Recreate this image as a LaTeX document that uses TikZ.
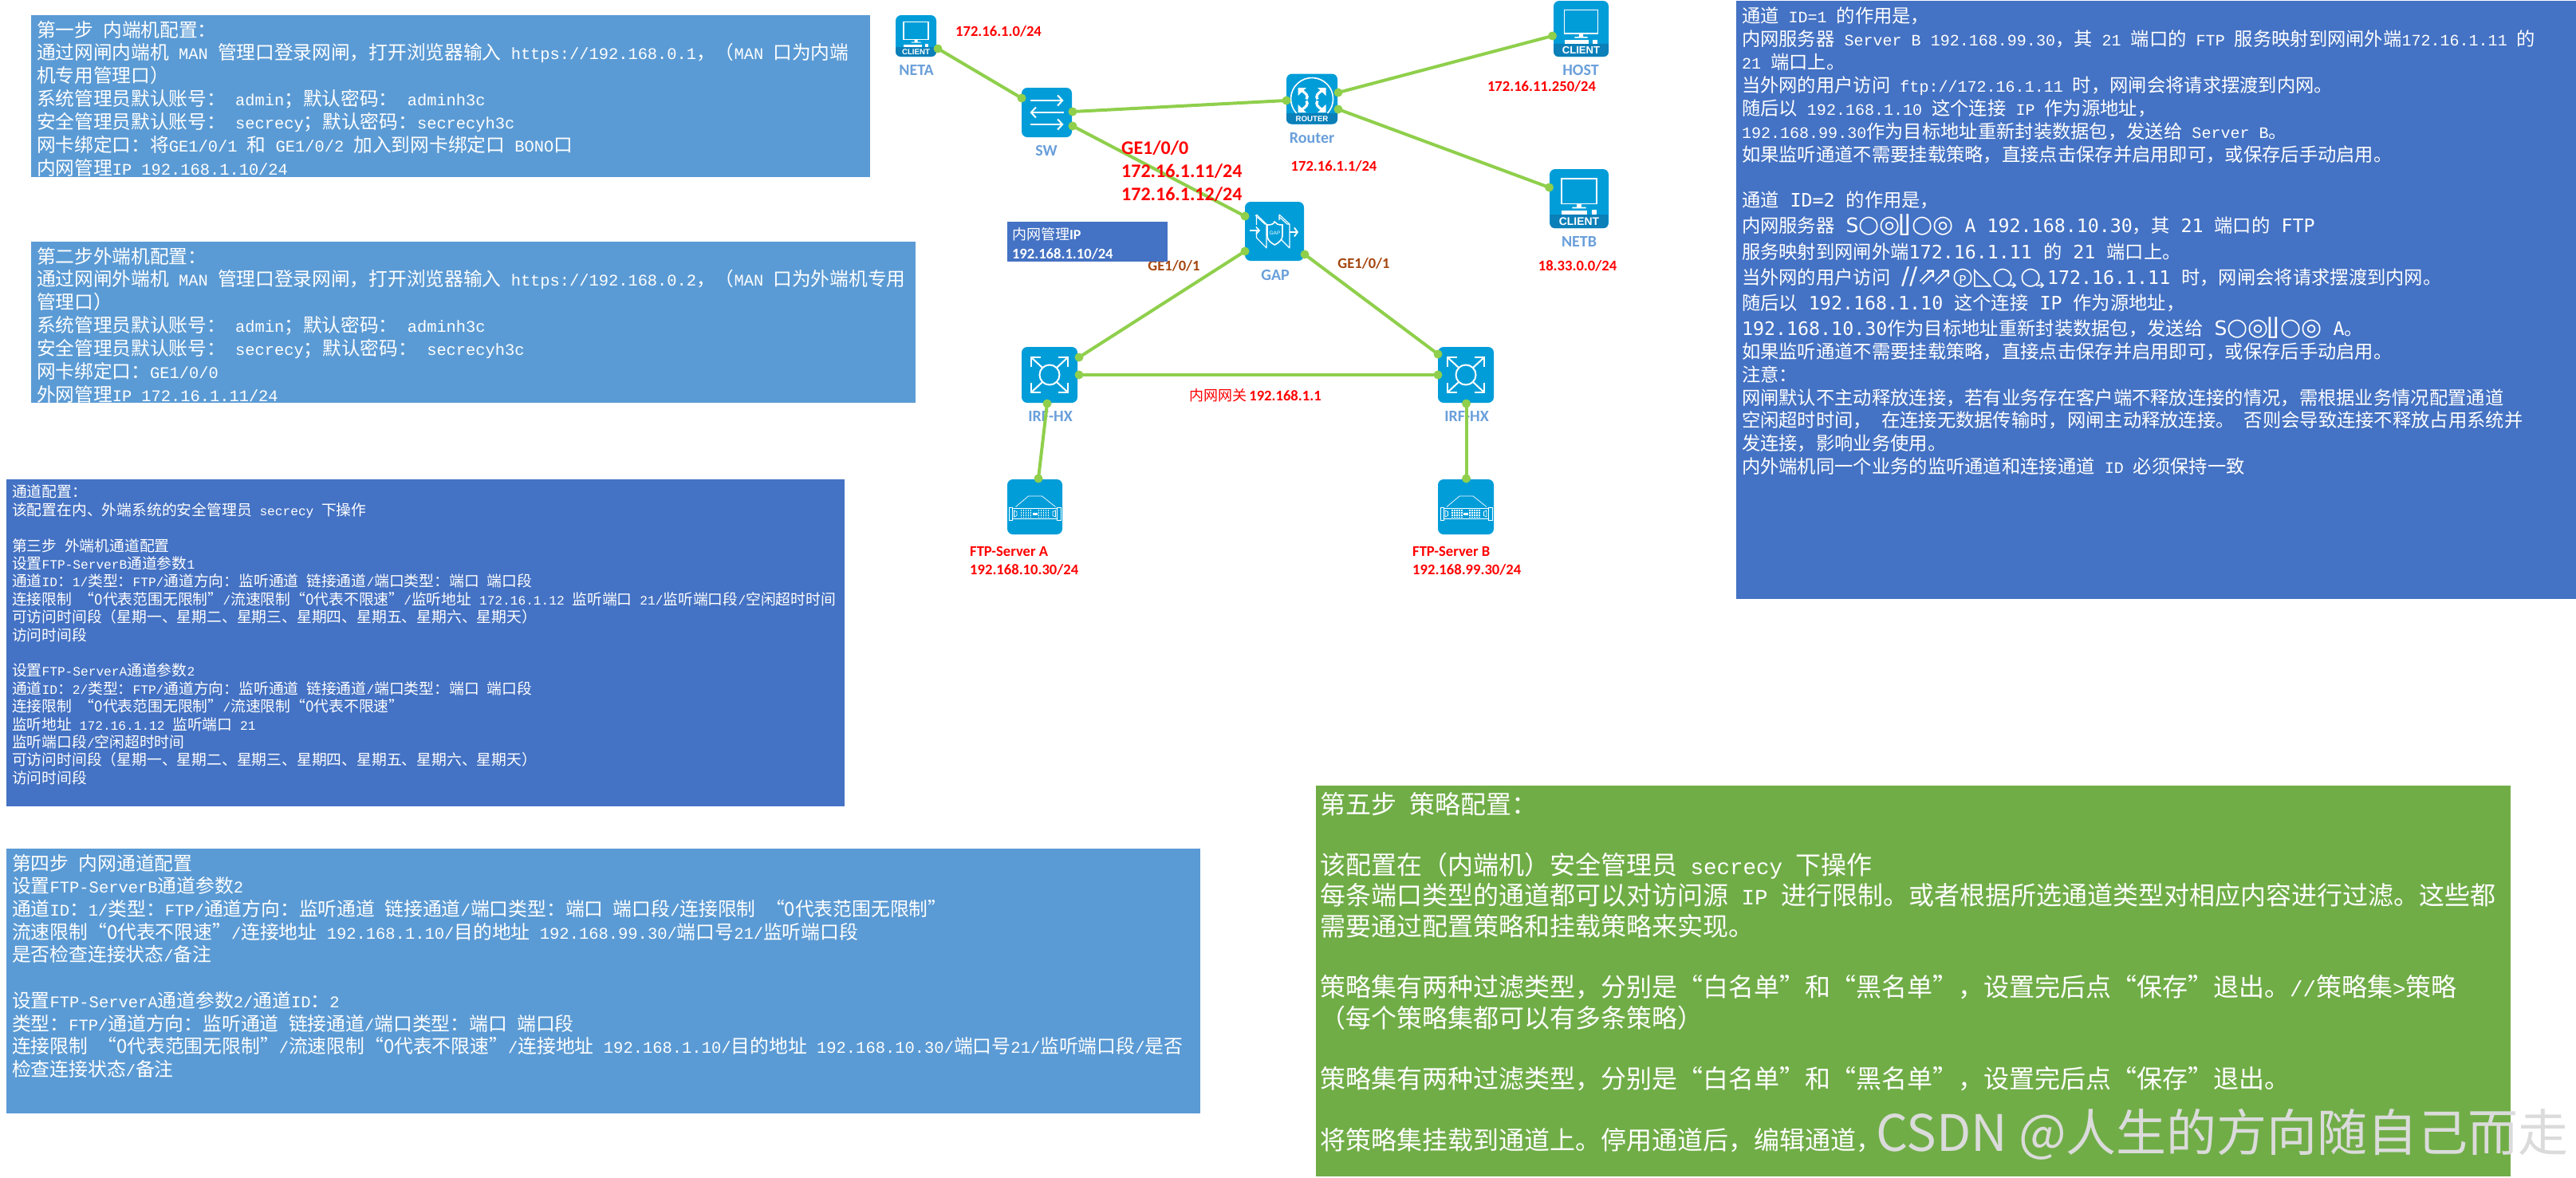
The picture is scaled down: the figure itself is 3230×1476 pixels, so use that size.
\documentclass[tikz,border=0pt]{standalone}
\usepackage{fontspec}
\usetikzlibrary{arrows.meta}
\setmainfont{Noto Sans CJK SC}
\setsansfont{Liberation Sans}
\newfontfamily\latf[Scale=0.86]{Liberation Mono}
\newfontfamily\latw{DejaVu Sans Mono}
\newfontfamily\calf{Carlito}
\newfontfamily\symf{DejaVu Sans}
\newcommand{\lat}[1]{{\latf #1}}
\newcommand{\latb}[1]{{\latw #1}}
\newcommand{\glitchS}{{\symf\fontsize{30}{30}\selectfont\raisebox{0pt}{\fontsize{25}{25}\selectfont S}○◎\kern-2pt⌊\kern-8pt⌋\kern1pt○◎}}
\newcommand{\qtail}{{\symf\raisebox{-6pt}{\fontsize{14}{14}\selectfont\kern-7pt ➔}}}
\newcommand{\glitchP}{\makebox[0pt][l]{\makebox[24pt][c]{\fontsize{15}{15}\selectfont P}}○}
\newcommand{\glitchF}{{\symf\fontsize{30}{30}\selectfont//⇗\kern-6pt⇗\glitchP ◺○\qtail\kern4pt○\qtail}}
\definecolor{pblue}{HTML}{5B9BD5}
\definecolor{pdark}{HTML}{4472C4}
\definecolor{pgreen}{HTML}{70AD47}
\definecolor{icon}{HTML}{019DD9}
\definecolor{iconband}{HTML}{0A7FB8}
\definecolor{linkc}{HTML}{8FCF4C}
\definecolor{labelc}{HTML}{6A9FDA}
\definecolor{brownc}{HTML}{A5460F}
\tikzset{
  panel/.style={anchor=north west,inner sep=0pt,outer sep=0pt},
  paneltext/.style={anchor=north west,inner sep=0pt,outer sep=0pt,align=left,text=white},
  iconbox/.style={fill=icon,rounded corners=7pt,inner sep=0pt,outer sep=0pt},
  port/.style={circle,fill=linkc,inner sep=0pt,minimum size=11pt},
  link/.style={draw=linkc,line width=4pt},
  devlabel/.style={text=labelc,inner sep=0pt,font=\calf\bfseries\fontsize{20}{20}\selectfont},
  redlabel/.style={text=red,inner sep=0pt,align=left,font=\calf\bfseries\fontsize{18.6}{23.5}\selectfont},
  brownlabel/.style={text=brownc,inner sep=0pt,font=\calf\bfseries\fontsize{18.6}{20}\selectfont},
  wl/.style={draw=white,line width=1.8pt},
  wa/.style={wl,-{Straight Barb[length=6pt,width=13pt,line width=2pt]}},
  clientpic/.pic={
    \fill[iconband,rounded corners=6pt] (-25.5,14) [sharp corners] -- (25.5,14) [rounded corners=6pt] -- (25.5,26) -- (-25.5,26) [sharp corners] -- (-25.5,14) -- cycle;
    \draw[white,line width=1.4pt] (-15.5,-17.5) rectangle (15.5,4.5);
    \fill[white] (-2,5) rectangle (2,7.5) (-6,7.5) rectangle (6,8.6);
    \fill[white] (-15.5,10.5) rectangle (7,14);
    \fill[white] (11,10) rectangle (15.5,14);
    \node[transform shape,text=white,inner sep=0pt,font=\sffamily\bfseries\fontsize{9.7}{10}\selectfont] (t) at (0,20.3) {CLIENT};
  },
  swpic/.pic={
    \draw[wa] (-21,-15) -- (21,-15);
    \draw[wa] (21,0) -- (-21,0);
    \draw[wa] (-21,15) -- (21,15);
  },
  routerpic/.pic={
    \fill[iconband,rounded corners=6pt] (-32,18) [sharp corners] -- (32,18) [rounded corners=6pt] -- (32,31.5) -- (-32,31.5) [sharp corners] -- (-32,18) -- cycle;
    \draw[white,line width=1.6pt] (-19.4,18) arc[start angle=137.2,end angle=402.8,radius=26.5];
    \foreach \sx in {-1,1} \foreach \sy in {-1,1}{
      \draw[white,line width=3.2pt] (\sx*15,\sy*13+1.5) .. controls (\sx*7,\sy*9+1.5) and (\sx*4,\sy*5+1.5) .. (\sx*7,\sy*1+1.5);
      \fill[white] (\sx*17.5,\sy*15.5+1.5) -- (\sx*7,\sy*15.5+1.5) -- (\sx*17.5,\sy*5.5+1.5) -- cycle;
    }
    \node[transform shape,text=white,inner sep=0pt,font=\sffamily\bfseries\fontsize{9.7}{10}\selectfont] (t) at (0,25) {ROUTER};
  },
  gappic/.pic={
    \draw[white,line width=1.1pt,line join=round] (-22.5,-21) -- (-10,-9) -- (-10,21) -- (-22.5,8) (-22.5,-21) -- (-22.5,-8) (-22.5,0) -- (-22.5,8) (-10,-9) -- (-12,-9) -- (-24,-20);
    \draw[white,line width=1.1pt,line join=round] (6,-21) -- (19,-9) -- (19,21) -- (6,8) (6,-21) -- (6,-14) (19,-9) -- (16,-9) -- (6,-18);
    \draw[wl,-{Straight Barb[length=4pt,width=9pt,line width=1.6pt]},line width=1.4pt] (-31,-1) -- (-18,-1);
    \draw[wl,-{Straight Barb[length=4pt,width=11pt,line width=1.8pt]},line width=1.8pt] (19,1) -- (30,1);
    \draw[white,line width=1.6pt,fill=icon] (-9,-8) .. controls (-4,-8) and (-1,-9) .. (0,-12) .. controls (2,-9) and (5,-8) .. (10,-8) -- (10,6) .. controls (10,11) and (4,15) .. (0.5,17) .. controls (-4,15) and (-9,11) .. (-9,6) -- cycle;
    \node[transform shape,text=white,inner sep=0pt,font=\sffamily\fontsize{6.5}{7}\selectfont] (t) at (0.5,2) {GAP};
  },
  irfpic/.pic={
    \draw[white,line width=2pt] (0,0) circle[radius=12.5];
    \foreach \sx in {-1,1} \foreach \sy in {-1,1}{
      \draw[white,line width=2pt,line join=miter] (\sx*23,\sy*10) -- (\sx*23,\sy*22) -- (\sx*11,\sy*22);
      \draw[white,line width=2pt] (\sx*23,\sy*22) -- (\sx*9,\sy*9);
    }
  },
  serverpic/.pic={
    \draw[white,line width=.7pt] (-24,0) -- (-8,-13.5) -- (9,-13.5) -- (26,0);
    \draw[white,line width=.8pt] (-28,2) rectangle (28,14.5);
    \draw[white,line width=.8pt] (-32,1) rectangle (-28,17) (28,1) rectangle (33,17);
    \draw[white,line width=.7pt] (-26,4.5) -- (-22.5,6) -- (-22.5,11) -- (-26,12.5) -- cycle (26,4.5) -- (22.5,6) -- (22.5,11) -- (26,12.5) -- cycle;
    \foreach \dx in {-17,-14,-11,-8,-5,5,8,11,14,17} \foreach \dy in {4.5,7.5,10.5,13}
      \fill[white] (\dx-.8,\dy-.7) rectangle (\dx+.8,\dy+.7);
    \fill[white] (-3,7) rectangle (3,10);
  }
}
\begin{document}
\begin{tikzpicture}[x=1pt,y=-1pt]
\useasboundingbox (0,0) rectangle (3230,1476);

% panels
\node[panel,fill=pblue,minimum width=1052pt,minimum height=203pt] (box1) at (39,19) {};
\node[panel,fill=pblue,minimum width=1109pt,minimum height=202pt] (box2) at (39,303) {};
\node[panel,fill=pdark,minimum width=1051pt,minimum height=410pt] (box3) at (8,601) {};
\node[panel,fill=pblue,minimum width=1497pt,minimum height=332pt] (box4) at (8,1064) {};
\node[panel,fill=pgreen,minimum width=1498pt,minimum height=490pt] (box5) at (1650,985) {};
\node[panel,fill=pdark,minimum width=1053pt,minimum height=750pt] (box6) at (2177,1) {};

\node[paneltext,font=\fontsize{23.7}{28.9}\selectfont] (t1) at (46,26) {%
第一步\lat{ }内端机配置^^^^ff1a\\
通过网闸内端机\lat{ MAN }管理口登录网闸^^^^ff0c打开浏览器输入\lat{ https://192.168.0.1}^^^^ff0c^^^^ff08\lat{MAN }口为内端\\
机专用管理口^^^^ff09\\
系统管理员默认账号^^^^ff1a\lat{ admin}^^^^ff1b默认密码^^^^ff1a\lat{ adminh3c}\\
安全管理员默认账号^^^^ff1a\lat{ secrecy}^^^^ff1b默认密码^^^^ff1a\lat{secrecyh3c}\\
网卡绑定口^^^^ff1a将\lat{GE1/0/1 }和\lat{ GE1/0/2 }加入到网卡绑定口\lat{ BONO}口\\
内网管理\lat{IP 192.168.1.10/24}};

\node[paneltext,font=\fontsize{23.7}{28.9}\selectfont] (t2) at (46,310) {%
第二步外端机配置^^^^ff1a\\
通过网闸外端机\lat{ MAN }管理口登录网闸^^^^ff0c打开浏览器输入\lat{ https://192.168.0.2}^^^^ff0c^^^^ff08\lat{MAN }口为外端机专用\\
管理口^^^^ff09\\
系统管理员默认账号^^^^ff1a\lat{ admin}^^^^ff1b默认密码^^^^ff1a\lat{ adminh3c}\\
安全管理员默认账号^^^^ff1a\lat{ secrecy}^^^^ff1b默认密码^^^^ff1a\lat{ secrecyh3c}\\
网卡绑定口^^^^ff1a\lat{GE1/0/0}\\
外网管理\lat{IP 172.16.1.11/24}};

\node[paneltext,font=\fontsize{18.8}{22.4}\selectfont] (t3) at (15,608) {%
通道配置^^^^ff1a\\
该配置在内、外端系统的安全管理员\lat{ secrecy }下操作\\
\mbox{}\\
第三步\lat{ }外端机通道配置\\
设置\lat{FTP-ServerB}通道参数\lat{1}\\
通道\lat{ID}^^^^ff1a\lat{1/}类型^^^^ff1a\lat{FTP/}通道方向^^^^ff1a监听通道\lat{ }链接通道\lat{/}端口类型^^^^ff1a端口\lat{ }端口段\\
连接限制\lat{ }“0代表范围无限制”\lat{/}流速限制“0代表不限速”\lat{/}监听地址\lat{ 172.16.1.12  }监听端口\lat{ 21/}监听端口段\lat{/}空闲超时时间\\
可访问时间段^^^^ff08星期一、星期二、星期三、星期四、星期五、星期六、星期天^^^^ff09\\
访问时间段\\
\mbox{}\\
设置\lat{FTP-ServerA}通道参数\lat{2}\\
通道\lat{ID}^^^^ff1a\lat{2/}类型^^^^ff1a\lat{FTP/}通道方向^^^^ff1a监听通道\lat{ }链接通道\lat{/}端口类型^^^^ff1a端口\lat{ }端口段\\
连接限制\lat{ }“0代表范围无限制”\lat{/}流速限制“0代表不限速”\\
监听地址\lat{ 172.16.1.12  }监听端口\lat{ 21}\\
监听端口段\lat{/}空闲超时时间\\
可访问时间段^^^^ff08星期一、星期二、星期三、星期四、星期五、星期六、星期天^^^^ff09\\
访问时间段};

\node[paneltext,font=\fontsize{23.8}{28.7}\selectfont] (t4) at (15,1071) {%
第四步\lat{ }内网通道配置\\
设置\lat{FTP-ServerB}通道参数\lat{2}\\
通道\lat{ID}^^^^ff1a\lat{1/}类型^^^^ff1a\lat{FTP/}通道方向^^^^ff1a监听通道\lat{ }链接通道\lat{/}端口类型^^^^ff1a端口\lat{ }端口段\lat{/}连接限制\lat{ }“0代表范围无限制”\\
流速限制“0代表不限速”\lat{/}连接地址\lat{ 192.168.1.10/}目的地址\lat{ 192.168.99.30/}端口号\lat{21/}监听端口段\\
是否检查连接状态\lat{/}备注\\
\mbox{}\\
设置\lat{FTP-ServerA}通道参数\lat{2/}通道\lat{ID}^^^^ff1a\lat{2}\\
类型^^^^ff1a\lat{FTP/}通道方向^^^^ff1a监听通道\lat{ }链接通道\lat{/}端口类型^^^^ff1a端口\lat{ }端口段\\
连接限制\lat{ }“0代表范围无限制”\lat{/}流速限制“0代表不限速”\lat{/}连接地址\lat{ 192.168.1.10/}目的地址\lat{ 192.168.10.30/}端口号\lat{21/}监听端口段\lat{/}是否\\
检查连接状态\lat{/}备注};

\node[paneltext,font=\fontsize{32}{38.3}\selectfont] (t5) at (1655,993) {%
第五步\lat{ }策略配置^^^^ff1a\\
\mbox{}\\
该配置在^^^^ff08内端机^^^^ff09安全管理员\lat{ secrecy }下操作\\
每条端口类型的通道都可以对访问源\lat{ IP }进行限制。或者根据所选通道类型对相应内容进行过滤。这些都\\
需要通过配置策略和挂载策略来实现。\\
\mbox{}\\
策略集有两种过滤类型^^^^ff0c分别是“白名单”和“黑名单”^^^^ff0c设置完后点“保存”退出。\lat{//}策略集\lat{>}策略\\
^^^^ff08每个策略集都可以有多条策略^^^^ff09\\
\mbox{}\\
策略集有两种过滤类型^^^^ff0c分别是“白名单”和“黑名单”^^^^ff0c设置完后点“保存”退出。\\
\mbox{}\\
将策略集挂载到通道上。停用通道后^^^^ff0c编辑通道^^^^ff0c};

\node[paneltext,font=\fontsize{23.3}{28.9}\selectfont] (t6) at (2184,9) {%
通道\lat{ ID=1 }的作用是^^^^ff0c\\
内网服务器\lat{ Server B 192.168.99.30}^^^^ff0c其\lat{ 21 }端口的\lat{ FTP }服务映射到网闸外端\lat{172.16.1.11 }的\\
\lat{21 }端口上。\\
当外网的用户访问\lat{ ftp://172.16.1.11 }时^^^^ff0c网闸会将请求摆渡到内网。\\
随后以\lat{ 192.168.1.10 }这个连接\lat{ IP }作为源地址^^^^ff0c\\
\lat{192.168.99.30}作为目标地址重新封装数据包^^^^ff0c发送给\lat{ Server B}。\\
如果监听通道不需要挂载策略^^^^ff0c直接点击保存并启用即可^^^^ff0c或保存后手动启用。\\
\mbox{}\\
通道\latb{ ID=2 }的作用是^^^^ff0c\\[3.2pt]
内网服务器\latb{ }\glitchS\latb{ A 192.168.10.30}^^^^ff0c其\latb{ 21 }端口的\latb{ FTP}\\[3.2pt]
服务映射到网闸外端\latb{172.16.1.11 }的\latb{ 21 }端口上。\\[3.2pt]
当外网的用户访问\latb{ }\glitchF\kern3pt\latb{172.16.1.11 }时^^^^ff0c网闸会将请求摆渡到内网。\\[3.2pt]
随后以\latb{ 192.168.1.10 }这个连接\latb{ IP }作为源地址^^^^ff0c\\[3.2pt]
\latb{192.168.10.30}作为目标地址重新封装数据包^^^^ff0c发送给\latb{ }\glitchS\latb{ A}。\\
如果监听通道不需要挂载策略^^^^ff0c直接点击保存并启用即可^^^^ff0c或保存后手动启用。\\
注意^^^^ff1a\\
网闸默认不主动释放连接^^^^ff0c若有业务存在客户端不释放连接的情况^^^^ff0c需根据业务情况配置通道\\
空闲超时时间^^^^ff0c\lat{ }在连接无数据传输时^^^^ff0c网闸主动释放连接。\lat{ }否则会导致连接不释放占用系统并\\
发连接^^^^ff0c影响业务使用。\\
内外端机同一个业务的监听通道和连接通道\lat{ ID }必须保持一致};

% device labels
\node[devlabel] (lneta) at (1149,88) {NETA};
\node[devlabel] (lsw) at (1312,189) {SW};
\node[devlabel] (lrouter) at (1645,173) {Router};
\node[devlabel] (lhost) at (1982,88) {HOST};
\node[devlabel] (lnetb) at (1980,303) {NETB};
\node[devlabel] (lgap) at (1599,345) {GAP};
\node[devlabel] (lirfa) at (1317,522) {IRF-HX};
\node[devlabel] (lirfb) at (1839,522) {IRF-HX};

% device icons
\node[iconbox,minimum width=51pt,minimum height=52pt] (neta) at (1148.5,45) {};
\pic (netag) at (neta) {clientpic};
\node[iconbox,minimum width=63pt,minimum height=62pt] (sw) at (1312.5,141) {};
\pic (swg) at (sw) {swpic};
\node[iconbox,minimum width=64pt,minimum height=63pt] (router) at (1645,124) {};
\pic (routerg) at (router) {routerpic};
\node[iconbox,minimum width=69pt,minimum height=70pt] (host) at (1982.5,36) {};
\pic (hostg) [scale=1.35] at (host) {clientpic};
\node[iconbox,minimum width=74pt,minimum height=74pt] (netb) at (1980,249) {};
\pic (netbg) [scale=1.43] at (netb) {clientpic};
\node[iconbox,minimum width=74pt,minimum height=74pt] (gap) at (1598,290) {};
\pic (gapg) at (gap) {gappic};
\node[iconbox,minimum width=70pt,minimum height=70pt] (irfa) at (1316,470) {};
\pic (irfag) at (irfa) {irfpic};
\node[iconbox,minimum width=70pt,minimum height=70pt] (irfb) at (1838,470) {};
\pic (irfbg) at (irfb) {irfpic};
\node[iconbox,minimum width=69pt,minimum height=69pt] (ftpa) at (1297.5,635.5) {};
\pic (ftpag) at (ftpa) {serverpic};
\node[iconbox,minimum width=70pt,minimum height=69pt] (ftpb) at (1838,635.5) {};
\pic (ftpbg) at (ftpb) {serverpic};

% ports
\node[port] (pneta) at (1176,61) {};
\node[port] (pswl) at (1281,123) {};
\node[port] (pswr) at (1345,140) {};
\node[port] (pswg) at (1345,158) {};
\node[port] (prl) at (1613,126) {};
\node[port] (pru) at (1678,116) {};
\node[port] (prd) at (1678,137) {};
\node[port] (phost) at (1946.5,45) {};
\node[port] (pnetb) at (1942.5,235) {};
\node[port] (pgs) at (1561,271) {};
\node[port] (pgl) at (1561,315) {};
\node[port] (pgr) at (1636,319) {};
\node[port] (pau) at (1353,448) {};
\node[port] (par) at (1353,470) {};
\node[port] (pab) at (1313,506) {};
\node[port] (pbu) at (1803,444) {};
\node[port] (pbl) at (1803,470) {};
\node[port] (pbb) at (1838.5,506) {};
\node[port] (pfa) at (1302,600) {};
\node[port] (pfb) at (1838.5,600) {};

% links
\draw[link] (pneta.center) -- (pswl.center);
\draw[link] (pswr.center) -- (prl.center);
\draw[link] (pswg.center) -- (pgs.center);
\draw[link] (pru.center) -- (phost.center);
\draw[link] (prd.center) -- (pnetb.center);
\draw[link] (pgl.center) -- (pau.center);
\draw[link] (pgr.center) -- (pbu.center);
\draw[link] (par.center) -- (pbl.center);
\draw[link] (pab.center) -- (pfa.center);
\draw[link] (pbb.center) -- (pfb.center);

% red and brown labels
\node[redlabel,anchor=center] (a1) at (1252,39) {172.16.1.0/24};
\node[redlabel,anchor=center] (a2) at (1933,108) {172.16.11.250/24};
\node[redlabel,anchor=center] (a3) at (1672.5,208) {172.16.1.1/24};
\node[redlabel,anchor=center] (a4) at (1978,333) {18.33.0.0/24};
\node[redlabel,anchor=west,font=\calf\bfseries\fontsize{24}{29.2}\selectfont] (a5) at (1406,214.5) {GE1/0/0\\172.16.1.11/24\\172.16.1.12/24};
\node[redlabel,anchor=center,font=\fontsize{18}{20}\selectfont] (a6) at (1574,496) {内网网关\,{\calf\bfseries\fontsize{18.6}{20}\selectfont 192.168.1.1}};
\node[redlabel,anchor=west] (a7) at (1216,703.5) {FTP-Server A\\192.168.10.30/24};
\node[redlabel,anchor=west] (a8) at (1771,703.5) {FTP-Server B\\192.168.99.30/24};
\node[brownlabel] (b1) at (1472,333) {GE1/0/1};
\node[brownlabel] (b2) at (1710,330) {GE1/0/1};

% management IP tag
\node[panel,fill=pdark,minimum width=201pt,minimum height=50pt] (tag) at (1263,278) {};
\node[paneltext,font=\fontsize{18}{24}\selectfont] (tagt) at (1269,285) {内网管理{\calf\bfseries IP}\\{\calf\bfseries\fontsize{18.6}{24}\selectfont 192.168.1.10/24}};

% watermark
\node[inner sep=0pt,anchor=west,text=white!72!gray,font=\fontsize{63}{70}\selectfont] (wm) at (2352,1422) {CSDN @人生的方向随自己而走};
\end{tikzpicture}
\end{document}
